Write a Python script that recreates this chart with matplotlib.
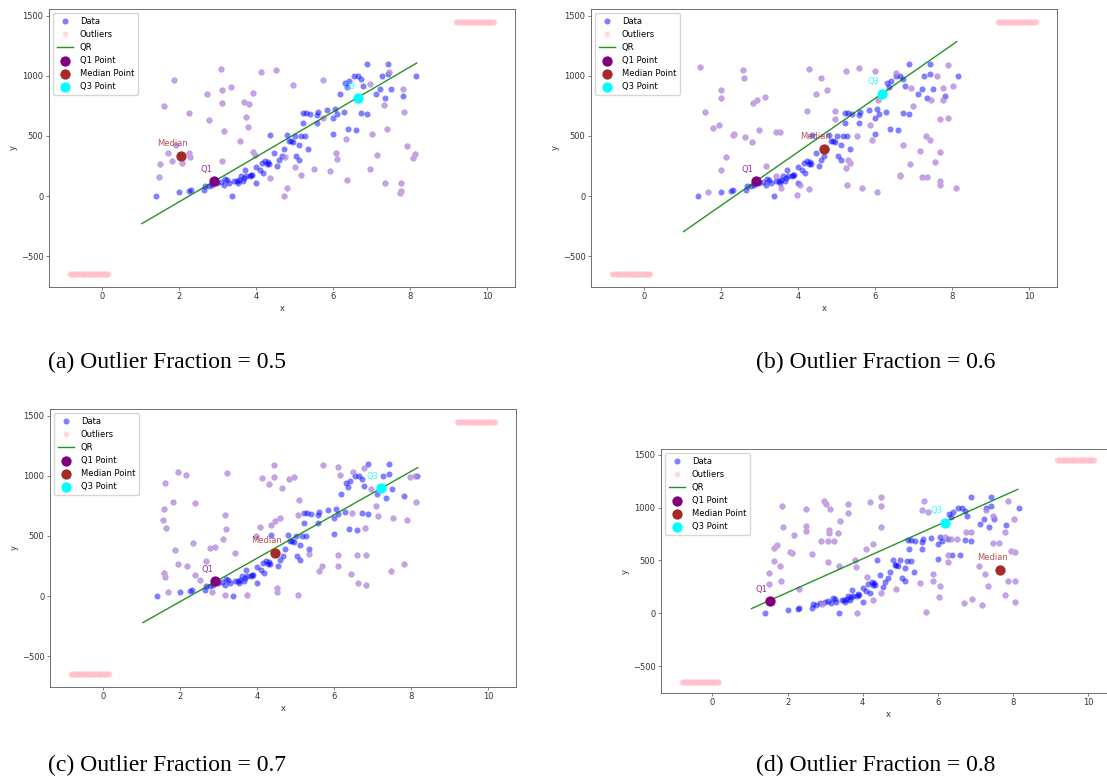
import numpy as np
import matplotlib
matplotlib.use("Agg")
from matplotlib import pyplot as plt

plt.rcParams['font.family'] = ['DejaVu Sans']
plt.rcParams['font.size'] = 6.0
plt.rcParams['axes.linewidth'] = 0.6
plt.rcParams['axes.edgecolor'] = '0.35'
plt.rcParams['axes.labelpad'] = 2.2
plt.rcParams['axes.labelcolor'] = '0.2'
for a in ['xtick', 'ytick']:
    plt.rcParams[a + '.major.size'] = 2.0
    plt.rcParams[a + '.major.width'] = 0.5
    plt.rcParams[a + '.major.pad'] = 1.9
    plt.rcParams[a + '.color'] = '0.3'
    plt.rcParams[a + '.labelcolor'] = '0.2'
plt.rcParams['legend.fontsize'] = 6.0

# inlier data, shared by all four panels
blue_x = [1.40, 2.0, 2.31, 2.27, 2.64, 2.69, 2.77, 2.86, 3.0, 3.08, 3.17, 3.26, 3.30, 3.37,
          3.44, 3.53, 3.57, 3.61, 3.66, 3.72, 3.75, 3.84, 3.88, 4.0, 4.01, 4.15, 4.19, 4.24,
          4.28, 4.34, 4.37, 4.46, 4.55, 4.59, 4.68, 4.72, 4.81, 4.86, 4.95, 5.05, 5.12, 5.12,
          5.17, 5.23, 5.21, 5.28, 5.30, 5.36, 5.39, 5.59, 5.59, 5.61, 5.83, 6.0, 6.01, 6.06,
          6.10, 6.19, 6.28, 6.31, 6.35, 6.39, 6.41, 6.54, 6.59, 6.64, 6.72, 6.72, 6.77, 6.88,
          6.88, 7.12, 7.23, 7.28, 7.36, 7.42, 7.50, 7.43, 7.82, 8.16,
          3.2, 3.5, 3.7, 3.9, 4.1, 4.3, 4.9, 5.0]
blue_y = [3, 33, 53, 39, 47, 86, 81, 95, 109, 114, 95, 136, 109, 0,
          123, 109, 136, 164, 123, 220, 164, 164, 178, 109, 242, 276, 192, 295,
          270, 265, 504, 359, 248, 298, 331, 390, 504, 457, 449, 337, 304, 429,
          499, 605, 694, 499, 694, 390, 680, 671, 610, 699, 716, 652, 513, 722,
          680, 847, 699, 944, 911, 554, 958, 995, 549, 995, 972, 694, 917, 680,
          1098, 847, 894, 995, 816, 1098, 894, 1014, 833, 997,
          140, 125, 150, 175, 215, 285, 455, 500]

# scattered outliers per panel
out_a_x = [1.62, 1.48, 1.51, 1.71, 1.81, 1.88, 1.93, 2.08, 2.26, 2.27, 2.30, 2.74, 2.77, 3.08,
           3.11, 3.13, 3.13, 3.18, 3.35, 3.59, 3.70, 3.74, 3.79, 3.81, 3.91, 3.93, 3.97, 4.12,
           4.36, 4.53, 4.72, 4.80, 4.76, 4.96, 5.0, 5.16, 5.51, 5.73, 5.75, 5.92, 6.08, 6.09,
           6.33, 6.35, 6.96, 6.97, 7.02, 7.15, 7.32, 7.34, 7.41, 7.45, 7.74, 7.77, 7.77, 7.81,
           7.83, 7.92, 8.08, 8.13]
out_a_y = [749, 156, 270, 359, 290, 964, 423, 276, 691, 359, 323, 852, 632, 1056,
           777, 883, 292, 540, 903, 457, 783, 657, 577, 763, 861, 365, 345, 1028,
           150, 1050, 3, 67, 326, 922, 240, 178, 226, 967, 652, 212, 357, 309,
           471, 131, 930, 228, 513, 340, 755, 109, 554, 1028, 25, 39, 109, 889,
           702, 415, 318, 354]

out_b_x = [1.47, 1.58, 1.67, 1.79, 1.95, 1.99, 2.01, 1.99, 2.12, 2.31, 2.33, 2.58, 2.60, 2.63,
           2.81, 2.84, 2.94, 2.98, 3.14, 3.16, 3.43, 3.44, 3.53, 3.57, 3.98, 4.04, 4.23, 4.29,
           4.29, 4.46, 4.61, 4.74, 4.95, 4.95, 5.25, 5.27, 5.25, 5.31, 5.34, 5.54, 5.59, 5.66,
           5.86, 5.91, 6.00, 6.04, 6.07, 6.53, 6.64, 6.64, 6.73, 6.90, 6.93, 6.99, 7.17, 7.23,
           7.35, 7.33, 7.42, 7.44, 7.55, 7.61, 7.69, 7.69, 7.69, 7.69, 7.76, 7.77, 7.90, 7.90,
           8.01, 8.10]
out_b_y = [1073, 700, 33, 567, 587, 812, 881, 214, 322, 511, 520, 1048, 984, 492,
           450, 776, 795, 553, 823, 247, 170, 531, 534, 67, 6, 89, 706, 1054,
           58, 845, 979, 881, 706, 637, 1037, 95, 234, 303, 275, 498, 1068, 67,
           595, 470, 1040, 31, 795, 1026, 178, 164, 428, 267, 901, 748, 373, 156,
           156, 498, 470, 795, 284, 998, 367, 122, 95, 637, 901, 795, 1087, 651,
           915, 67]

out_c_x = [1.61, 1.55, 1.60, 1.64, 1.59, 1.62, 1.68, 1.81, 1.87, 1.95, 1.96, 2.15, 2.19, 2.33,
           2.38, 2.38, 2.51, 2.68, 2.79, 2.91, 2.84, 3.11, 3.16, 3.16, 3.19, 3.22, 3.42, 3.73,
           3.97, 4.08, 4.13, 4.30, 4.37, 4.43, 4.44, 4.46, 4.51, 4.52, 4.61, 4.64, 4.84, 4.97,
           5.06, 5.10, 5.07, 5.35, 5.62, 5.69, 5.71, 6.09, 6.11, 6.11, 6.15, 6.44, 6.46, 6.49,
           6.60, 6.63, 6.80, 6.84, 6.84, 6.97, 7.10, 7.13, 7.48, 7.53, 7.81, 7.89, 7.97, 8.12,
           8.09, 6.77]
out_c_y = [942, 631, 726, 567, 192, 158, 33, 784, 386, 264, 1029, 1009, 253, 442,
           770, 178, 131, 295, 400, 406, 31, 475, 11, 678, 562, 1020, 359, 6,
           498, 573, 984, 929, 587, 992, 1090, 623, 33, 67, 651, 895, 976, 992,
           6, 803, 678, 350, 206, 253, 1087, 1073, 339, 253, 1004, 186, 692, 1031,
           345, 108, 567, 342, 95, 892, 753, 664, 206, 651, 267, 631, 992, 781,
           998, 1068]

out_d_x = [1.51, 1.51, 1.64, 1.65, 1.71, 1.80, 1.82, 1.85, 1.88, 2.06, 2.13, 2.18, 2.30, 2.48,
           2.50, 2.50, 2.64, 2.89, 2.93, 2.97, 3.03, 3.07, 3.09, 3.11, 3.11, 3.14, 3.25, 3.34,
           3.36, 3.40, 3.62, 3.62, 3.80, 3.83, 3.85, 4.10, 4.11, 4.20, 4.27, 4.27, 4.48, 4.48,
           4.48, 4.50, 4.89, 5.54, 5.63, 5.69, 5.57, 5.73, 5.87, 5.88, 6.06, 6.18, 6.27, 6.34,
           6.50, 6.75, 6.89, 6.69, 6.92, 7.11, 7.17, 7.25, 7.29, 7.34, 7.48, 7.62, 7.48, 7.78,
           7.80, 7.87, 7.87, 8.02, 7.94, 8.06, 8.06, 8.06, 6.04, 6.27]
out_d_y = [377, 276, 494, 615, 647, 450, 301, 1014, 815, 577, 574, 742, 225, 986,
           827, 780, 558, 685, 92, 1065, 1033, 685, 488, 789, 758, 986, 685, 764,
           450, 869, 1037, 948, 504, 441, 6, 605, 345, 1049, 653, 124, 1097, 1018,
           821, 187, 225, 282, 1065, 10, 980, 957, 371, 304, 260, 726, 552, 701,
           701, 767, 767, 98, 139, 447, 82, 368, 980, 260, 663, 663, 916, 767,
           171, 1065, 304, 894, 590, 583, 108, 307, 155, 488]

# far outliers in the corners (many points piled along a short strip)
low_x = [-0.82, -0.79, -0.76, -0.73, -0.7, -0.67, -0.64, -0.61, -0.58, -0.55, -0.52, -0.49,
         -0.46, -0.43, -0.4, -0.37, -0.34, -0.31, -0.28, -0.25, -0.22, -0.19, -0.16, -0.13,
         -0.1, -0.07, -0.04, -0.01, 0.02, 0.05, 0.08, 0.11, 0.14, 0.16]
low_y = [-650] * len(low_x)
high_x = [9.18, 9.21, 9.24, 9.27, 9.3, 9.33, 9.36, 9.39, 9.42, 9.45, 9.48, 9.51, 9.54, 9.57,
          9.6, 9.63, 9.66, 9.69, 9.72, 9.75, 9.78, 9.81, 9.84, 9.87, 9.9, 9.93, 9.96, 9.99,
          10.02, 10.05, 10.08, 10.11, 10.14, 10.17]
high_y = [1450] * len(high_x)

# quantile regression line ends and quantile points: (x0, y0, x1, y1)
qr_lines = [(1.04, -228, 8.17, 1106), (1.03, -295, 8.12, 1284),
            (1.04, -220, 8.17, 1068), (1.04, 44, 8.13, 1173)]
q1_pts = [(2.92, 122), (2.91, 122), (2.92, 122), (1.53, 114)]
med_pts = [(2.05, 334), (4.68, 392), (4.47, 359), (7.67, 409)]
q3_pts = [(6.64, 813), (6.18, 851), (7.22, 895), (6.20, 859)]
captions = ['(a) Outlier Fraction = 0.5', '(b) Outlier Fraction = 0.6',
            '(c) Outlier Fraction = 0.7', '(d) Outlier Fraction = 0.8']
outs = [(out_a_x, out_a_y), (out_b_x, out_b_y), (out_c_x, out_c_y), (out_d_x, out_d_y)]

fig = plt.figure(figsize=(11.07, 7.78), dpi=100)
rects = [[49 / 1107, 491 / 778, 466 / 1107, 278 / 778],
         [591 / 1107, 491 / 778, 466 / 1107, 278 / 778],
         [50 / 1107, 91 / 778, 466 / 1107, 278 / 778],
         [661 / 1107, 85 / 778, 454 / 1107, 244 / 778]]
cap_pos = [(48, 368), (756, 368), (48, 771), (756, 771)]


def draw_panel(ax, i):
    ox, oy = outs[i]
    ax.scatter(blue_x + ox, blue_y + oy, s=19, c='blue', alpha=0.5, linewidths=0, label='Data')
    ax.scatter(ox + low_x + high_x, oy + low_y + high_y, s=19, c='pink', alpha=0.55,
               linewidths=0, label='Outliers')
    x0, y0, x1, y1 = qr_lines[i]
    ax.plot([x0, x1], [y0, y1], color='green', lw=1.0, alpha=0.85, label='QR')
    for (px, py), col, lab, txt in [(q1_pts[i], 'purple', 'Q1 Point', 'Q1'),
                                    (med_pts[i], 'brown', 'Median Point', 'Median'),
                                    (q3_pts[i], 'cyan', 'Q3 Point', 'Q3')]:
        ax.scatter([px], [py], s=55, c=col, linewidths=0, label=lab, zorder=3)
        ax.annotate(txt, (px, py), textcoords='offset points', xytext=(-6, 5.5),
                    ha='center', va='bottom', color=col, alpha=0.8)
    ax.set_xlabel('x')
    ax.set_ylabel('y')
    ax.set_yticks([-500, 0, 500, 1000, 1500])
    ax.legend(loc='upper left')


for i in range(4):
    ax = fig.add_axes(rects[i])
    draw_panel(ax, i)
    cx, cy = cap_pos[i]
    fig.text(cx / 1107, 1 - cy / 778, captions[i], family='Liberation Serif', fontsize=17,
             va='baseline', ha='left')

fig.savefig('out.png', dpi=100)
